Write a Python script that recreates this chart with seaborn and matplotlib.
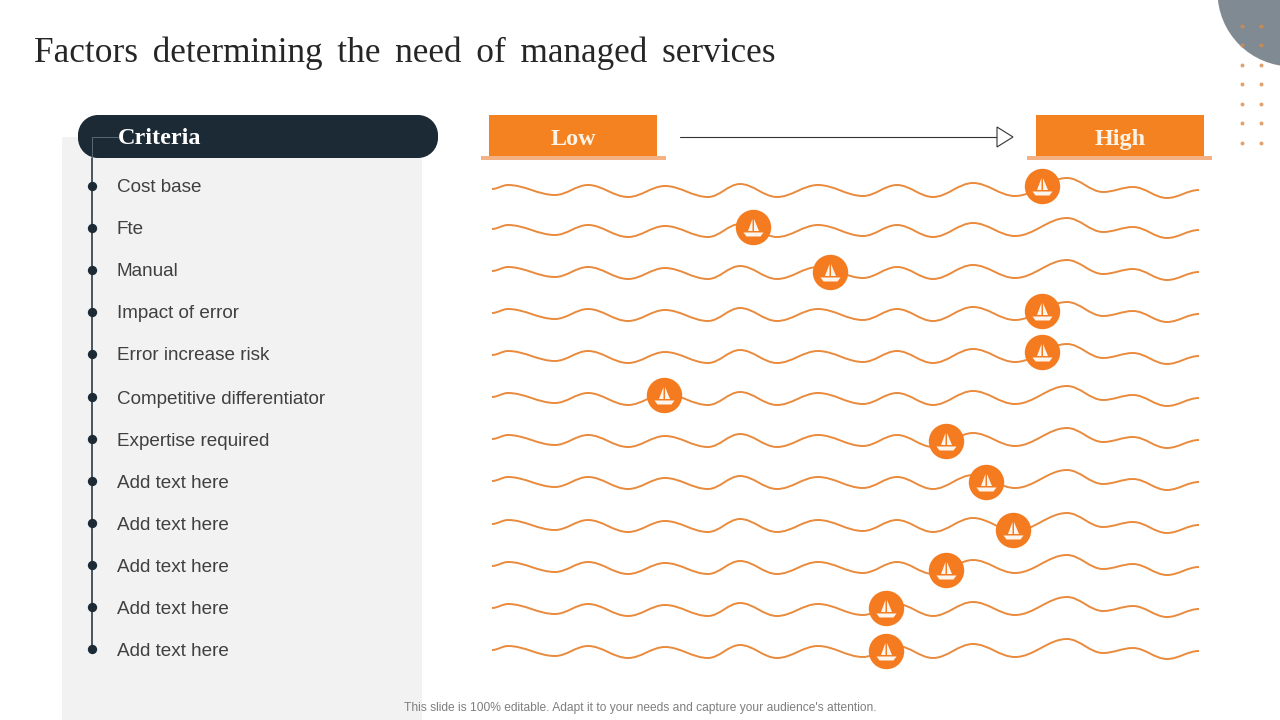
import matplotlib.pyplot as plt
import seaborn as sns
from matplotlib.markers import MarkerStyle
from matplotlib.patches import Circle, PathPatch, Polygon, Rectangle
from matplotlib.path import Path

sns.set_theme(style="white")

title = "Factors \u2006determining \u2006the \u2006need \u2006of \u2006managed \u2006services"
footer = "This slide is 100% editable. Adapt it to your needs and capture your audience's attention."
criteria = ["Cost base", "Fte", "Manual", "Impact of error", "Error increase risk",
            "Competitive differentiator", "Expertise required", "Add text here",
            "Add text here", "Add text here", "Add text here", "Add text here"]
label_y = [186, 228, 270, 312, 354, 397, 439, 481, 523, 565, 607, 649]
wave_start_y = [189, 229, 271, 313, 355, 397, 439, 481, 524, 566, 608, 650]
marker_x = [1042, 753, 830, 1042, 1042, 664, 946, 986, 1013, 946, 886, 886]
marker_y = [186, 227, 272, 311, 352, 395, 441, 482, 530, 570, 608, 651]

# crests and troughs of the wave, offset from its starting height
wave_x = [492, 508, 555, 588, 628, 665, 708, 740, 777, 818, 863, 897, 933, 973, 1015, 1067, 1103, 1133, 1167, 1199]
wave_dy = [0, -4, 6, -4, 8, -3, 8, -5, 8, -4, 7, -4, 8, -6, 7, -11, 3, -2, 9, 1]

dots_x = [1242, 1261]
dots_y = [26, 45, 65, 84, 104, 123, 143]

ORANGE = "#f58220"
CIRCLE = "#f47b20"
WAVE = "#e98a3c"
PALE = "#f4b183"
NAVY = "#1b2a35"
TEXT = "#404040"

fig, ax = plt.subplots(figsize=(12.8, 7.2), dpi=100)
ax.set_position([0, 0, 1, 1])

# corner decoration
ax.add_patch(Circle((1292, -8), 74.5, color="#808a93", lw=0, zorder=1))

# left panel and header
ax.add_patch(Rectangle((62, 137), 360, 583, color="#f2f2f2", lw=0, zorder=1))
r = 20
ax.add_patch(Rectangle((78 + r, 115), 360 - 2 * r, 43, color=NAVY, lw=0, zorder=2))
ax.add_patch(Rectangle((78, 115 + r), 360, 43 - 2 * r, color=NAVY, lw=0, zorder=2))
for cx in [78 + r, 438 - r]:
    for cy in [115 + r, 158 - r]:
        ax.add_patch(Circle((cx, cy), r, color=NAVY, lw=0, zorder=2))
ax.plot([91.5, 91.5], [158, 650], color=NAVY, lw=1.1, zorder=3)
ax.plot([91.5, 91.5], [137, 158], color="#5b6871", lw=0.7, zorder=3)
ax.plot([91.5, 118], [137, 137], color="#5b6871", lw=0.7, zorder=3)
sns.scatterplot(x=[92] * len(label_y), y=label_y, s=45, color=NAVY, linewidth=0, zorder=4, ax=ax)

# Low / High boxes
for x0, bar_x0, word in [(489, 481, "Low"), (1036, 1027, "High")]:
    ax.add_patch(Rectangle((x0, 115), 168, 41, color=ORANGE, lw=0, zorder=2))
    ax.add_patch(Rectangle((bar_x0, 156), 185, 4, color=PALE, lw=0, zorder=2))
    ax.text(x0 + 84, 139.5, word, color="#fdf3e7", fontsize=17.4, fontweight="bold",
            family="Liberation Serif", ha="center", va="center", zorder=3)

# arrow
ax.plot([680, 997], [136.5, 136.5], color="#333333", lw=0.8, zorder=2)
ax.add_patch(Polygon([(997, 127), (1013, 137), (997, 147)], closed=True, facecolor="white",
                     edgecolor="#333333", lw=0.8, zorder=2))

# wave rows
for y0 in wave_start_y:
    verts = [(wave_x[0], y0 + wave_dy[0])]
    codes = [Path.MOVETO]
    for i in range(1, len(wave_x)):
        gap = wave_x[i] - wave_x[i - 1]
        verts += [(wave_x[i - 1] + 0.36 * gap, y0 + wave_dy[i - 1]),
                  (wave_x[i] - 0.36 * gap, y0 + wave_dy[i]),
                  (wave_x[i], y0 + wave_dy[i])]
        codes += [Path.CURVE4, Path.CURVE4, Path.CURVE4]
    ax.add_patch(PathPatch(Path(verts, codes), facecolor="none", edgecolor=WAVE, lw=1.4, zorder=3))

# position markers with a small boat inside
boat = Path(
    [(-1, 8.5), (-1, -3.5), (-5.5, -3.5), (-1, 8.5),
     (0.5, 8.5), (0.5, -3.5), (5.5, -3.5), (0.5, 8.5),
     (-10, -5), (10, -5), (7, -9), (-7, -9), (-10, -5)],
    [Path.MOVETO, Path.LINETO, Path.LINETO, Path.CLOSEPOLY,
     Path.MOVETO, Path.LINETO, Path.LINETO, Path.CLOSEPOLY,
     Path.MOVETO, Path.LINETO, Path.LINETO, Path.LINETO, Path.CLOSEPOLY],
)
sns.scatterplot(x=marker_x, y=marker_y, s=650, color=CIRCLE, linewidth=0, zorder=5, ax=ax)
sns.scatterplot(x=marker_x, y=marker_y, s=207, marker=MarkerStyle(boat), color="#fdf6ee",
                linewidth=0, zorder=6, ax=ax)

# dots in the corner
sns.scatterplot(x=[x for x in dots_x for _ in dots_y], y=dots_y * len(dots_x), s=8, color="#d98a4a",
                linewidth=0, alpha=0.8, zorder=2, ax=ax)

# text
ax.text(34, 53, title, fontsize=25.4, family=["Liberation Serif", "DejaVu Serif"], color="#262626",
        va="center", ha="left")
ax.text(118, 139, "Criteria", fontsize=17.5, fontweight="bold", family="Liberation Serif",
        color="white", va="center", ha="left", zorder=4)
for label, y in zip(criteria, label_y):
    ax.text(117, y + 2, label, fontsize=13.55, family="Liberation Sans", color=TEXT, va="center", ha="left", zorder=4)
ax.text(640, 708.5, footer, fontsize=8.65, family="Liberation Sans", color="#7f7f7f", va="center", ha="center", zorder=4)

ax.set_xlim(0, 1280)
ax.set_ylim(720, 0)
ax.axis("off")

fig.savefig("out.png", dpi=100)
